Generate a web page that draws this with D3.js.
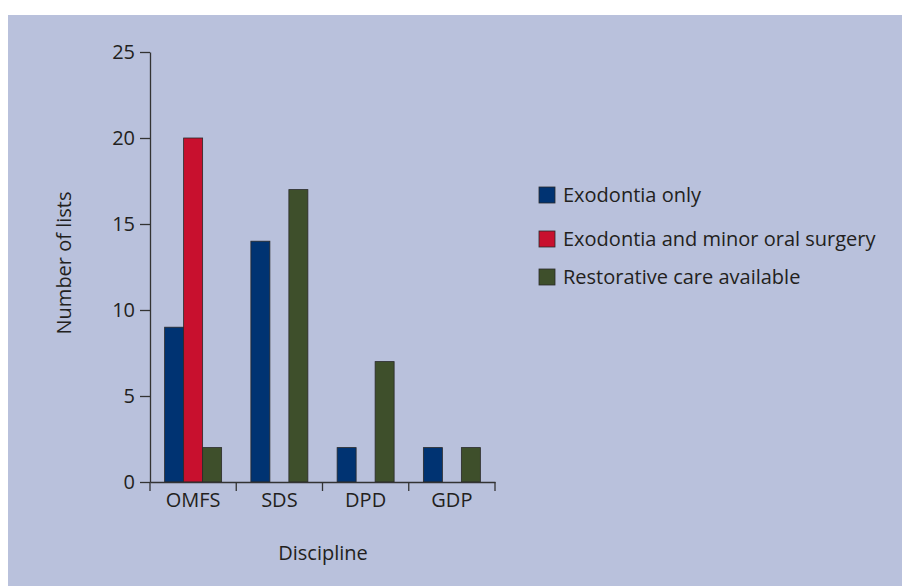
<!DOCTYPE html>
<html><head><meta charset="utf-8">
<script src="https://cdn.jsdelivr.net/npm/d3@7"></script>
<style>
body{margin:0;background:#fff;}
text{font-family:"Open Sans",sans-serif;fill:#231f20;}
</style></head>
<body><svg id="chart" width="902" height="586"></svg>
<script>
const categories = ["OMFS","SDS","DPD","GDP"];
const seriesNames = ["Exodontia only","Exodontia and minor oral surgery","Restorative care available"];
const exodontiaOnly = [9,14,2,2];
const exodontiaMinor = [20,0,0,0];
const restorative = [2,17,7,2];
const yTicks = [0,5,10,15,20,25];
const colors = ["#003372","#c8102e","#3e4f2b"];

const svg = d3.select("#chart");
svg.append("rect").attr("x",8).attr("y",15).attr("width",894).attr("height",571).attr("fill","#b9c1dc");

const x0 = 150, x1 = 495, yTop = 52, yBot = 482;
const FS = "20px";
const x = d3.scaleBand().domain(categories).range([x0,x1]).paddingInner(0).paddingOuter(0);
const xs = d3.scaleBand().domain(seriesNames).range([0,x.bandwidth()]).paddingInner(0).paddingOuter(0.77);
const y = d3.scaleLinear().domain([0,25]).range([yBot,yTop]);

const series = [exodontiaOnly, exodontiaMinor, restorative];
const g = svg.append("g");
series.forEach((vals,si)=>{
  g.selectAll(null).data(categories.map((c,i)=>({c,v:vals[i]})).filter(d=>d.v>0)).enter()
    .append("rect")
    .attr("x",d=>x(d.c)+xs(seriesNames[si]))
    .attr("y",d=>y(d.v))
    .attr("width",xs.bandwidth())
    .attr("height",d=>y(0)-y(d.v))
    .attr("fill",colors[si])
    .attr("stroke","#2a2a2a").attr("stroke-width",0.8);
});

// y axis
const ya = svg.append("g").attr("transform",`translate(${x0},0)`)
  .call(d3.axisLeft(y).tickValues(yTicks).tickSize(10).tickPadding(5).tickSizeOuter(0));
ya.select(".domain").attr("stroke","#333").attr("stroke-width",1.3);
ya.selectAll(".tick line").attr("stroke","#333").attr("stroke-width",1.3);
ya.selectAll("text").style("font-size",FS).style("font-family","Open Sans").attr("fill","#231f20");

// x axis
const xa = svg.append("g").attr("transform",`translate(0,${yBot})`)
  .call(d3.axisBottom(x).tickSize(0).tickPadding(11).tickSizeOuter(0));
xa.select(".domain").attr("stroke","#333").attr("stroke-width",1.3);
xa.selectAll("text").style("font-size",FS).style("font-family","Open Sans").attr("fill","#231f20");
// boundary ticks
const bounds = categories.map(c=>x(c)).concat([x1]);
svg.append("g").selectAll("line").data(bounds).enter().append("line")
  .attr("x1",d=>d).attr("x2",d=>d).attr("y1",yBot).attr("y2",yBot+9)
  .attr("stroke","#333").attr("stroke-width",1.3);

// axis titles
svg.append("text").attr("x",323).attr("y",560).attr("text-anchor","middle")
  .style("font-size",FS).text("Discipline");
svg.append("text").attr("transform","translate(71,263) rotate(-90)").attr("text-anchor","middle")
  .style("font-size",FS).text("Number of lists");

// legend
const ly = [195,239,277];
const lg = svg.append("g");
seriesNames.forEach((n,i)=>{
  lg.append("rect").attr("x",539).attr("y",ly[i]-8).attr("width",16).attr("height",16)
    .attr("fill",colors[i]).attr("stroke","#2a2a2a").attr("stroke-width",0.8);
  lg.append("text").attr("x",563).attr("y",ly[i]).attr("dy","0.35em")
    .style("font-size",FS).text(n);
});
</script></body></html>
